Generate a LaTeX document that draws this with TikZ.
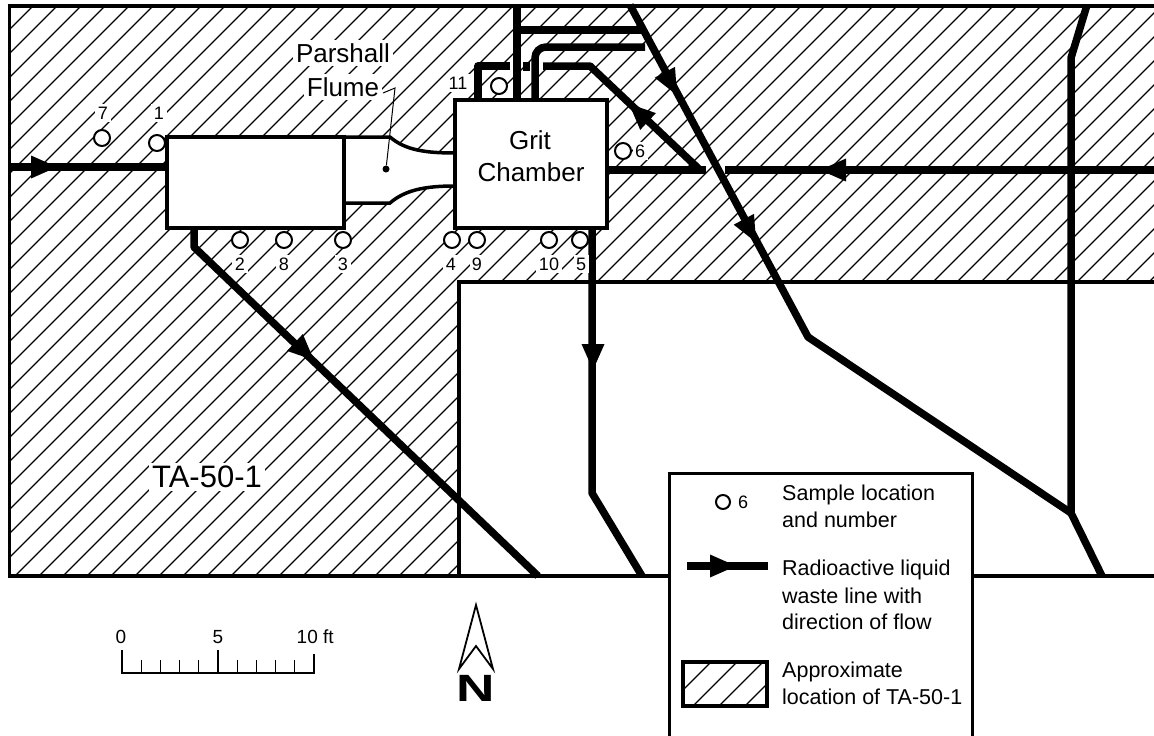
\documentclass[tikz,border=0pt]{standalone}
\usepackage{fontspec}
\setmainfont{Liberation Sans}
\newcommand{\flowhead}[3]{\fill[shift={(#1,#2)},rotate=#3] (-11,-11.5)--(15,0)--(-11,11.5)--cycle;}
\newcommand{\fs}[1]{\fontsize{#1}{#1}\selectfont}
\tikzset{
  waste/.style={line width=7.5pt,line join=round},
  hatchline/.style={line width=1.1pt},
  frameline/.style={line width=3.5pt},
  boxline/.style={line width=3.5pt,fill=white},
  sample/.style={circle,draw,line width=2pt,fill=white,minimum size=16pt,inner sep=0pt,outer sep=0pt},
  numlabel/.style={fill=white,inner sep=2.5pt,font=\fs{18}},
  biglabel/.style={fill=white,inner sep=3pt,font=\fs{26},align=center},
  legendtext/.style={anchor=west,inner sep=0pt,font=\fs{21.5}},
}
\begin{document}
\begin{tikzpicture}[x=1pt,y=-1pt]
\useasboundingbox (0,0) rectangle (1154,736);
\fill[white] (0,0) rectangle (1154,736);
% hatch
\begin{scope}
\clip (9,5)--(1154,5)--(1154,282)--(459,282)--(459,576)--(9,576)--cycle;
\foreach \c in {15,39,...,1743} \draw[hatchline] (\c,0)--(\c-600,600);
\end{scope}
% frame
\draw[frameline] (7.5,6)--(1154,6);
\draw[frameline] (9.3,6)--(9.3,576)--(1154,576);
\draw[frameline] (459,576)--(459,282)--(1154,282);
% flume
\fill[white] (344,137)--(390,137) .. controls (405,150) and (425,153) .. (455,153) -- (455,186) .. controls (425,186) and (405,190) .. (390,203) -- (344,203) -- cycle;
\draw[line width=3.5pt] (344,137)--(390,137) .. controls (405,150) and (425,153) .. (455,153);
\draw[line width=3.5pt] (344,203)--(390,203) .. controls (405,190) and (425,186) .. (455,186);
% waste lines
\draw[waste] (9,167)--(167,167);
\draw[waste] (194,228)--(194,247)--(538,576);
\draw[waste] (630,5)--(808,337)--(1071,513)--(1102,576);
\draw[waste] (1087,5)--(1071,58)--(1071,513);
\draw[waste] (1154,170)--(725,170);
\draw[waste] (607,170)--(706,170);
\draw[waste] (700,170)--(590,66)--(543,66);
\fill (523,62) rectangle (530,71);
\draw[waste] (510,66)--(478,66)--(478,100);
\draw[waste] (517,5)--(517,100);
\draw[waste] (517,30)--(642,30);
\draw[waste,rounded corners=11pt] (535,100)--(535,47)--(645,47);
\draw[waste] (592,228)--(592,493)--(642,576);
% arrowheads
\flowhead{42}{167}{0}
\flowhead{303}{350}{-43}
\flowhead{670}{82}{-62}
\flowhead{749}{229}{-62}
\flowhead{835}{170}{180}
\flowhead{640}{114}{137}
\flowhead{593}{355}{-90}
% boxes
\draw[boxline] (167,137) rectangle (344,228);
\node[draw,boxline,minimum width=152pt,minimum height=128pt,inner sep=0pt,outer sep=0pt,anchor=north west] (grit) at (455,100) {};
\node[inner sep=0pt,font=\fs{26}] (gritA) at (530,140) {Grit};
\node[inner sep=0pt,font=\fs{26}] (gritB) at (531,172) {Chamber};
% samples
\node[sample] (s7) at (102,138) {};
\node[sample] (s1) at (157,143) {};
\node[sample] (s2) at (240,240) {};
\node[sample] (s8) at (284,240) {};
\node[sample] (s3) at (343,240) {};
\node[sample] (s4) at (452,240) {};
\node[sample] (s9) at (477,240) {};
\node[sample] (s10) at (549,240) {};
\node[sample] (s5) at (580,240) {};
\node[sample] (s11) at (499,86) {};
\node[sample] (s6) at (623,151) {};
\node[numlabel] (n7) at (103,113) {7};
\node[numlabel] (n1) at (159,113) {1};
\node[numlabel] (n2) at (240,264) {2};
\node[numlabel] (n8) at (284,264) {8};
\node[numlabel] (n3) at (343,264) {3};
\node[numlabel] (n4) at (451,264) {4};
\node[numlabel] (n9) at (477,264) {9};
\node[numlabel] (n10) at (549,264) {10};
\node[numlabel] (n5) at (581,264) {5};
\node[numlabel] (n11) at (458,83) {11};
\node[numlabel] (n6) at (640,151) {6};
% labels
\node[biglabel] (pa) at (343,53) {Parshall};
\node[biglabel] (fl) at (343,87) {Flume};
\coordinate (ldA) at (383,93);
\coordinate (ldB) at (395,88);
\node[circle,fill,inner sep=0pt,minimum size=7pt] (fdot) at (386,169) {};
\draw[line width=1pt] (ldA)--(ldB)--(fdot);
\node[fill=white,inner sep=3pt,font=\fs{31}] (ta) at (207,477) {TA-50-1};
% scale
\draw[line width=1.6pt] (122,650)--(122,673)--(314,673)--(314,654);
\foreach \x in {141.2,160.4,179.6,198.8,237.2,256.4,275.6,294.8} \draw[line width=1.2pt] (\x,660)--(\x,673);
\draw[line width=1.6pt] (218,650)--(218,673);
\node[inner sep=0pt,font=\fs{19}] (sc0) at (121,637) {0};
\node[inner sep=0pt,font=\fs{19}] (sc5) at (218,637) {5};
\node[inner sep=0pt,font=\fs{19},anchor=west] (sc10) at (296.5,637) {10 ft};
% north
\draw[line width=1.8pt,line join=miter] (459,669)--(476,605)--(493,669)--(476,646)--cycle;
\node[inner sep=0pt,font=\fs{38}\bfseries,xscale=1.4] (north) at (476,688.5) {N};
% legend
\draw[line width=3pt,fill=white] (669,473) rectangle (972,738);
\node[sample,minimum size=14pt] (ls) at (723,502) {};
\node[inner sep=0pt,font=\fs{18}] (l6) at (743,502) {6};
\node[legendtext] (t1) at (782,495) {Sample location};
\node[legendtext] (t2) at (782,520) {and number};
\draw[line width=8pt] (687,566)--(768,566);
\flowhead{721}{566}{0}
\node[legendtext] (t3) at (782,570) {Radioactive liquid};
\node[legendtext] (t4) at (782,596) {waste line with};
\node[legendtext] (t5) at (782,622) {direction of flow};
\begin{scope}
\clip (683,662) rectangle (767,706);
\foreach \c in {1347,1373,1399,1425,1451} \draw[hatchline] (\c-650,650)--(\c-720,720);
\end{scope}
\draw[line width=3.5pt] (683,662) rectangle (767,706);
\node[legendtext] (t6) at (782,672) {Approximate};
\node[legendtext] (t7) at (782,697) {location of TA-50-1};
\end{tikzpicture}
\end{document}
